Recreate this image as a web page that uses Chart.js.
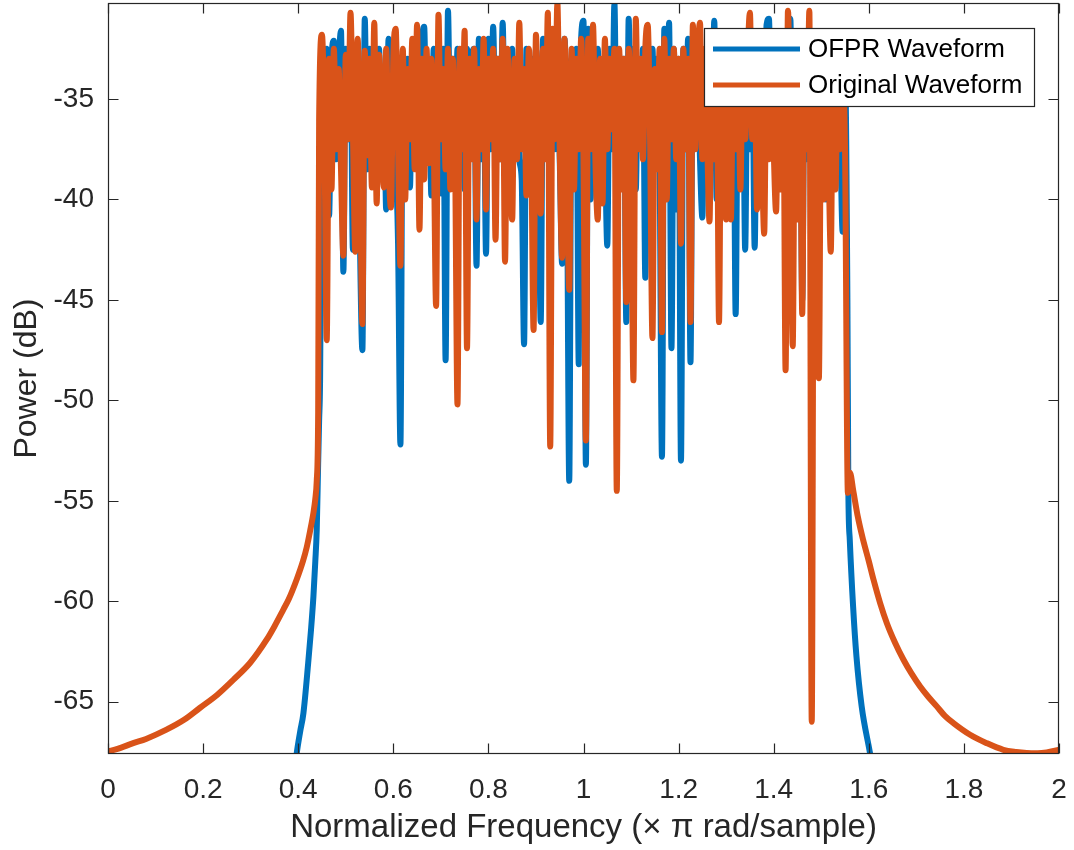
<!DOCTYPE html>
<html><head><meta charset="utf-8">
<script src="https://cdn.jsdelivr.net/npm/chart.js@4/dist/chart.umd.min.js"></script>
<style>html,body{margin:0;padding:0;background:#fff}#wrap{width:1074px;height:850px}</style>
</head><body><div id="wrap"><canvas id="c" width="1074" height="850"></canvas></div>
<script>
// ---------- data ----------
const seriesNames = ['OFPR Waveform', 'Original Waveform'];
const xTickValues = [0, 0.2, 0.4, 0.6, 0.8, 1, 1.2, 1.4, 1.6, 1.8, 2];
const xTickLabels = ['0', '0.2', '0.4', '0.6', '0.8', '1', '1.2', '1.4', '1.6', '1.8', '2'];
const yTickValues = [-65, -60, -55, -50, -45, -40, -35];
const yTickLabels = ['-65', '-60', '-55', '-50', '-45', '-40', '-35'];
const xTitle = 'Normalized Frequency (\u00d7 \u03c0 rad/sample)';
const yTitle = 'Power (dB)';

// shared in-band frequency samples (x pi rad/sample)
const bandFreq = [
 0.45,0.455,0.46,0.465,0.47,0.475,0.48,0.485,0.49,0.495,
 0.5,0.505,0.51,0.515,0.52,0.525,0.53,0.535,0.54,0.545,
 0.55,0.555,0.56,0.565,0.57,0.575,0.58,0.585,0.59,0.595,
 0.6,0.605,0.61,0.615,0.62,0.625,0.63,0.635,0.64,0.645,
 0.65,0.655,0.66,0.665,0.67,0.675,0.68,0.685,0.69,0.695,
 0.7,0.705,0.71,0.715,0.72,0.725,0.73,0.735,0.74,0.745,
 0.75,0.755,0.76,0.765,0.77,0.775,0.78,0.785,0.79,0.795,
 0.8,0.805,0.81,0.815,0.82,0.825,0.83,0.835,0.84,0.845,
 0.85,0.855,0.86,0.865,0.87,0.875,0.88,0.885,0.89,0.895,
 0.9,0.905,0.91,0.915,0.92,0.925,0.93,0.935,0.94,0.945,
 0.95,0.955,0.96,0.965,0.97,0.975,0.98,0.985,0.99,0.995,
 1.0,1.005,1.01,1.015,1.02,1.025,1.03,1.035,1.04,1.045,
 1.05,1.055,1.06,1.065,1.07,1.075,1.08,1.085,1.09,1.095,
 1.1,1.105,1.11,1.115,1.12,1.125,1.13,1.135,1.14,1.145,
 1.15,1.155,1.16,1.165,1.17,1.175,1.18,1.185,1.19,1.195,
 1.2,1.205,1.21,1.215,1.22,1.225,1.23,1.235,1.24,1.245,
 1.25,1.255,1.26,1.265,1.27,1.275,1.28,1.285,1.29,1.295,
 1.3,1.305,1.31,1.315,1.32,1.325,1.33,1.335,1.34,1.345,
 1.35,1.355,1.36,1.365,1.37,1.375,1.38,1.385,1.39,1.395,
 1.4,1.405,1.41,1.415,1.42,1.425,1.43,1.435,1.44,1.445,
 1.45,1.455,1.46,1.465,1.47,1.475,1.48,1.485,1.49,1.495,
 1.5,1.505,1.51,1.515,1.52,1.525,1.53,1.535,1.54,1.545,
 1.55];

// OFPR waveform (blue)
const ofprLowFreq  = [0.39, 0.397, 0.404, 0.411, 0.421, 0.427, 0.432, 0.436, 0.439, 0.442, 0.444, 0.446];
const ofprLowPower = [-69.0, -67.55, -66.5, -65.56, -63.07, -61.4, -59.76, -58.0, -56.44, -53.1, -51.0, -49.0];
const ofprBandPower = [
 -33.9,-39.0,-32.5,-40.8,-33.0,-32.1,-38.0,-33.5,-31.6,-43.6,
 -32.5,-37.0,-31.8,-42.5,-33.0,-32.5,-42.3,-47.5,-31.0,-38.5,
 -32.5,-37.5,-33.0,-39.5,-32.5,-37.0,-33.5,-40.5,-32.0,-37.5,
 -33.0,-38.0,-42.2,-52.2,-32.8,-36.5,-33.0,-39.4,-32.5,-37.5,
 -33.0,-38.0,-32.5,-31.4,-37.5,-33.5,-39.8,-32.5,-37.0,-33.0,
 -39.7,-32.5,-48.0,-30.6,-37.5,-33.0,-38.5,-32.5,-37.5,-33.0,
 -39.5,-32.5,-37.5,-33.0,-32.5,-43.3,-32.0,-38.0,-33.0,-42.7,
 -32.0,-37.5,-31.4,-37.0,-33.0,-38.0,-31.2,-37.5,-33.0,-40.0,
 -32.5,-37.5,-33.5,-38.0,-39.0,-47.2,-32.5,-37.5,-33.0,-39.5,
 -32.5,-37.0,-46.1,-32.0,-37.5,-32.5,-38.0,-32.2,-37.5,-33.0,
 -38.0,-43.2,-32.0,-37.5,-54.0,-33.0,-37.5,-32.5,-48.2,-32.0,
 -31.1,-53.2,-31.5,-40.0,-33.0,-37.5,-32.5,-38.0,-33.0,-37.0,
 -42.3,-32.5,-37.5,-30.2,-38.0,-32.8,-37.5,-33.0,-46.1,-31.0,
 -37.5,-32.5,-39.5,-33.0,-37.5,-32.5,-43.9,-32.0,-38.5,-32.5,
 -37.0,-33.0,-38.0,-52.8,-31.5,-37.5,-31.2,-47.4,-32.5,-40.5,
 -33.0,-53.0,-32.5,-37.5,-32.0,-48.1,-32.0,-37.0,-33.0,-38.0,
 -40.9,-32.5,-38.0,-33.0,-37.5,-31.1,-40.0,-33.0,-37.5,-32.5,
 -38.0,-33.0,-37.5,-32.5,-45.7,-32.5,-37.5,-33.0,-42.5,-32.5,
 -37.5,-33.0,-42.4,-32.5,-39.0,-33.0,-37.0,-31.3,-31.0,-37.0,
 -33.0,-39.0,-33.0,-38.5,-32.5,-37.5,-33.0,-31.0,-39.5,-33.0,
 -37.5,-32.5,-45.0,-33.0,-38.0,-33.5,-37.0,-32.5,-39.0,-33.5,
 -37.5,-33.0,-40.0,-32.5,-37.5,-33.0,-38.5,-32.5,-37.0,-41.6,
 -33.5];
const ofprHighFreq  = [1.555, 1.557, 1.56, 1.567, 1.574, 1.585, 1.6025, 1.61];
const ofprHighPower = [-45.0, -54.45, -56.94, -60.26, -62.74, -65.23, -67.55, -68.6];

// Original waveform (orange)
const origLowFreq  = [0, 0.02, 0.053, 0.08, 0.123, 0.16, 0.193, 0.23, 0.264, 0.299, 0.334, 0.35,
 0.369, 0.38, 0.397, 0.41, 0.418, 0.425, 0.432, 0.436, 0.439, 0.442, 0.444];
const origLowPower = [-67.47, -67.35, -67.06, -66.85, -66.39, -65.9, -65.31, -64.65, -63.9, -63.06, -61.9, -61.25,
 -60.4, -59.9, -58.9, -58.0, -57.3, -56.5, -55.6, -54.9, -54.0, -50.6, -36.0];
const origBandPower = [
 -31.8,-36.5,-47.0,-33.0,-39.5,-32.5,-37.5,-33.5,-38.5,-42.8,
 -32.8,-37.0,-30.7,-36.5,-42.6,-32.0,-38.0,-46.2,-32.6,-37.8,
 -33.0,-39.4,-31.2,-40.2,-32.8,-36.5,-39.4,-32.5,-38.0,-40.4,
 -33.0,-31.5,-37.5,-43.3,-32.5,-40.0,-33.5,-37.0,-32.0,-38.5,
 -31.3,-41.5,-33.0,-39.0,-32.5,-38.2,-33.0,-37.0,-45.3,-30.8,
 -37.0,-33.5,-38.5,-32.5,-39.5,-33.0,-38.0,-50.2,-32.5,-37.5,
 -31.6,-47.4,-33.0,-38.0,-32.5,-41.0,-33.5,-37.5,-32.0,-40.5,
 -33.0,-37.0,-32.5,-42.0,-33.0,-38.0,-32.0,-43.1,-32.5,-37.5,
 -41.0,-33.0,-38.0,-31.2,-37.5,-33.5,-39.8,-32.5,-37.0,-46.5,
 -31.8,-37.5,-40.7,-32.5,-38.0,-30.7,-52.3,-31.5,-37.0,-30.2,
 -37.5,-42.9,-32.0,-38.0,-44.5,-32.5,-39.5,-33.0,-37.5,-32.0,
 -38.0,-52.0,-32.0,-37.5,-31.3,-38.0,-41.0,-33.0,-40.2,-32.0,
 -37.5,-33.0,-36.5,-32.5,-54.5,-32.5,-39.5,-33.0,-45.1,-32.5,
 -37.5,-49.0,-31.0,-37.5,-33.0,-38.0,-32.5,-31.3,-37.0,-46.9,
 -33.5,-38.5,-32.5,-46.6,-32.0,-40.0,-33.0,-37.0,-32.5,-38.0,
 -33.0,-42.2,-32.5,-37.5,-33.0,-46.1,-31.3,-37.5,-33.0,-31.2,
 -38.0,-32.5,-37.0,-41.1,-32.8,-38.0,-33.0,-46.1,-32.5,-37.5,
 -41.0,-33.5,-41.0,-32.5,-37.5,-33.0,-39.5,-32.5,-37.0,-33.0,
 -30.7,-37.0,-33.5,-40.5,-32.5,-37.5,-41.7,-33.0,-38.0,-32.5,
 -37.5,-40.6,-34.0,-39.5,-33.0,-48.5,-30.6,-37.5,-47.3,-33.5,
 -41.0,-32.5,-45.7,-32.0,-37.5,-30.6,-66.0,-33.5,-38.0,-48.9,
 -34.0,-40.0,-33.0,-37.5,-42.6,-33.5,-39.5,-32.5,-37.5,-34.5,
 -37.5];
const origHighFreq  = [1.556, 1.5605, 1.567, 1.577, 1.588, 1.6, 1.61, 1.624, 1.638, 1.655, 1.673, 1.69,
 1.708, 1.725, 1.743, 1.76, 1.778, 1.813, 1.848, 1.883, 1.91, 1.932, 1.955, 1.974, 2.0];
const origHighPower = [-54.6, -53.6, -54.45, -55.8, -56.94, -58.0, -58.93, -60.1, -61.09, -62.05, -62.91, -63.6,
 -64.24, -64.75, -65.23, -65.7, -66.06, -66.64, -67.06, -67.39, -67.5, -67.55, -67.56, -67.52, -67.39];

// ---------- styling ----------
const FONT = '"Liberation Sans", Arial, Helvetica, sans-serif';
const AXIS_COLOR = '#262626';
const COLORS = ['#0072BD', '#D95319'];

function toPoints(xs, ys) { return xs.map((x, i) => ({ x: x, y: ys[i] })); }

const ofprPoints = toPoints([].concat(ofprLowFreq, bandFreq, ofprHighFreq), [].concat(ofprLowPower, ofprBandPower, ofprHighPower));
const origPoints = toPoints([].concat(origLowFreq, bandFreq, origHighFreq), [].concat(origLowPower, origBandPower, origHighPower));

const matlabAxes = {
  id: 'matlabAxes',
  afterDatasetsDraw(chart) {
    const ctx = chart.ctx, a = chart.chartArea, xs = chart.scales.x, ys = chart.scales.y;
    ctx.save();
    ctx.strokeStyle = AXIS_COLOR;
    ctx.lineWidth = 1.2;
    const L = Math.round(a.left) + 0.5, R = Math.round(a.right) - 0.5, T = Math.round(a.top) + 0.5, B = Math.round(a.bottom) - 0.5;
    ctx.strokeRect(L, T, R - L, B - T);
    const tl = 10;
    ctx.beginPath();
    xTickValues.forEach(v => {
      const p = Math.round(xs.getPixelForValue(v)) + 0.5;
      ctx.moveTo(p, B); ctx.lineTo(p, B - tl);
      ctx.moveTo(p, T); ctx.lineTo(p, T + tl);
    });
    yTickValues.forEach(v => {
      const p = Math.round(ys.getPixelForValue(v)) + 0.5;
      ctx.moveTo(L, p); ctx.lineTo(L + tl, p);
      ctx.moveTo(R, p); ctx.lineTo(R - tl, p);
    });
    ctx.stroke();

    // legend box (MATLAB style, inside top-right)
    const w = 330, h = 78;
    const bx = Math.round(a.right) - 25 - w, by = Math.round(a.top) + 25;
    ctx.fillStyle = '#ffffff';
    ctx.fillRect(bx, by, w, h);
    ctx.strokeStyle = AXIS_COLOR;
    ctx.lineWidth = 1.2;
    ctx.strokeRect(bx + 0.5, by + 0.5, w, h);
    const rows = [by + 21, by + 57];
    ctx.lineWidth = 5;
    ctx.lineCap = 'butt';
    ctx.font = '26px ' + FONT;
    ctx.textBaseline = 'middle';
    ctx.textAlign = 'left';
    seriesNames.forEach((name, i) => {
      ctx.strokeStyle = COLORS[i];
      ctx.beginPath();
      ctx.moveTo(bx + 9, rows[i]); ctx.lineTo(bx + 96, rows[i]);
      ctx.stroke();
      ctx.fillStyle = '#000000';
      ctx.fillText(name, bx + 104, rows[i] + 1);
    });
    ctx.restore();
  }
};

new Chart(document.getElementById('c'), {
  type: 'line',
  data: {
    datasets: [
      { label: seriesNames[0], data: ofprPoints, borderColor: COLORS[0], backgroundColor: COLORS[0], order: 1, clip: 0 },
      { label: seriesNames[1], data: origPoints, borderColor: COLORS[1], backgroundColor: COLORS[1], order: 0, clip: 0 }
    ]
  },
  options: {
    responsive: false,
    animation: false,
    devicePixelRatio: 1,
    layout: { padding: { top: 3, right: 15, left: 0, bottom: 0 } },
    plugins: { legend: { display: false }, tooltip: { enabled: false } },
    elements: {
      point: { radius: 0, hoverRadius: 0 },
      line: { borderWidth: 6, tension: 0, cubicInterpolationMode: 'monotone', borderJoinStyle: 'round', borderCapStyle: 'round', fill: false }
    },
    scales: {
      x: {
        type: 'linear', min: 0, max: 2,
        afterBuildTicks: s => { s.ticks = xTickValues.map(v => ({ value: v })); },
        afterFit: s => { s.height = 96; s.paddingLeft = 0; s.paddingRight = 0; },
        grid: { display: false, drawTicks: false },
        border: { display: false },
        ticks: { padding: 19, autoSkip: false, maxRotation: 0, color: AXIS_COLOR,
          font: { family: FONT, size: 28 },
          callback: (v, i) => xTickLabels[i] },
        title: { display: true, text: xTitle, color: AXIS_COLOR, font: { family: FONT, size: 33 },
          padding: { top: 0, bottom: 2 } }
      },
      y: {
        type: 'linear', min: -67.6, max: -30.22,
        afterBuildTicks: s => { s.ticks = yTickValues.map(v => ({ value: v })); },
        afterFit: s => { s.width = 108; s.paddingTop = 0; s.paddingBottom = 0; },
        grid: { display: false, drawTicks: false },
        border: { display: false },
        ticks: { padding: 14, autoSkip: false, color: AXIS_COLOR,
          font: { family: FONT, size: 28 },
          callback: (v, i) => yTickLabels[i] },
        title: { display: true, text: yTitle, color: AXIS_COLOR, font: { family: FONT, size: 32 },
          padding: { top: 8, bottom: 0 } }
      }
    }
  },
  plugins: [matlabAxes]
});
</script>
</body></html>
